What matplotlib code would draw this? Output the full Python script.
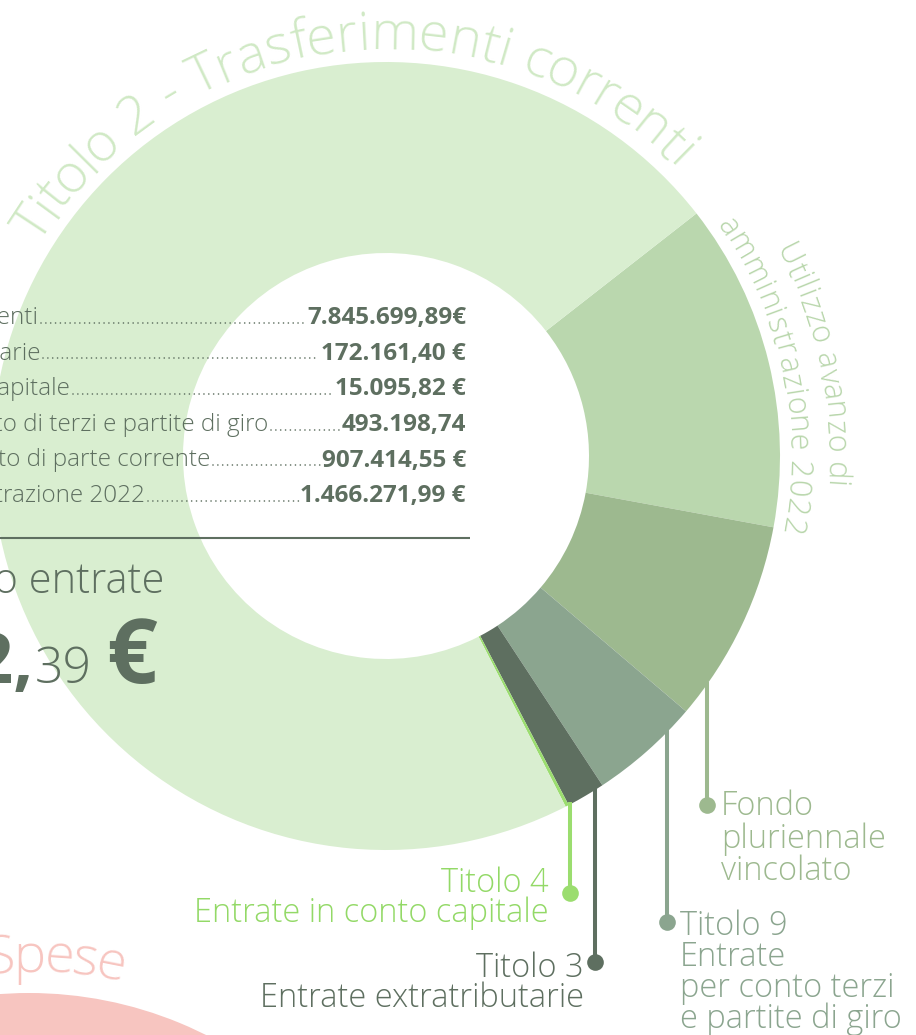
import numpy as np
import matplotlib
matplotlib.use("Agg")
import matplotlib.pyplot as plt
from matplotlib.patches import Wedge

W, H = 916, 1035
FONT = "Open Sans"
LIGHT = "light"

# Entrate (euro)
categorie = [
    "Titolo 2 - Trasferimenti correnti",
    "Titolo 3 - Entrate extratributarie",
    "Titolo 4 - Entrate in conto capitale",
    "Titolo 9 - Entrate per conto di terzi e partite di giro",
    "Fondo pluriennale vincolato di parte corrente",
    "Utilizzo avanzo di amministrazione 2022",
]
importi = [7845699.89, 172161.40, 15095.82, 493198.74, 907414.55, 1466271.99]
importi_testo = ["7.845.699,89€", "172.161,40 €", "15.095,82 €",
                 "493.198,74", "907.414,55 €", "1.466.271,99 €"]
colori = ["#d9eed0", "#5e6f60", "#9bdd6f", "#8ba58f", "#9db98f", "#bad7ae"]
colori_testo = ["#d0e9c5", "#5e6f60", "#93d967", "#8ba58f", "#9db98f", "#b8d6ab"]

# clockwise order around the ring, starting from the top-right boundary
ordine = [5, 4, 3, 1, 2, 0]

DARK = "#5e6f60"
PINK = "#f7c5c0"

fig = plt.figure(figsize=(W / 100, H / 100), dpi=100)
ax = fig.add_axes([0, 0, 1, 1])
renderer = fig.canvas.get_renderer()


def Y(y):
    return H - y


# ring geometry (pixels)
CX, CY = 386, 456
R_OUT, R_IN = 394, 203

ax.pie([importi[i] for i in ordine], colors=[colori[i] for i in ordine],
       startangle=38, counterclock=False, radius=R_OUT, center=(CX, Y(CY)),
       wedgeprops=dict(width=R_OUT - R_IN, linewidth=0, edgecolor="none"))

# second ring (spese), mostly outside the frame
ax.add_patch(Wedge((29, Y(1387)), R_OUT, 0, 360, width=R_OUT - R_IN,
                   facecolor=PINK, edgecolor="none"))

ax.set_xlim(0, W)
ax.set_ylim(0, H)
ax.set_aspect("equal")
ax.axis("off")


def text_width(s, size, weight):
    t = ax.text(0, 0, s, fontsize=size, family=FONT, weight=weight)
    w = t.get_window_extent(renderer).width
    t.remove()
    return w


def char_width(ch, size, weight):
    return text_width("x" + ch + "x", size, weight) - text_width("xx", size, weight)


def arc_text(s, cx, cy, r, mid_deg, size, color, weight=LIGHT, span_deg=None):
    ws = [char_width(ch, size, weight) for ch in s]
    total = sum(ws)
    gap = 0.0
    if span_deg is not None and len(s) > 1:
        gap = (np.deg2rad(span_deg) * r - total) / (len(s) - 1)
    length = total + gap * (len(s) - 1)
    th0 = np.deg2rad(mid_deg) + length / (2 * r)
    pos = 0.0
    for ch, w in zip(s, ws):
        th = th0 - (pos + w / 2) / r
        ax.text(cx + r * np.cos(th), cy + r * np.sin(th), ch,
                rotation=np.rad2deg(th) - 90, rotation_mode="anchor",
                ha="center", va="baseline", fontsize=size, family=FONT,
                weight=weight, color=color)
        pos += w + gap


# curved titles
arc_text("Titolo 2 - Trasferimenti correnti", CX, Y(CY), 407, 96.5, 39,
         colori_testo[0], span_deg=104)
arc_text("Utilizzo avanzo di", CX, Y(CY), 441, 12, 22, colori_testo[5], span_deg=32)
arc_text("amministrazione 2022", CX, Y(CY), 403, 12, 22, colori_testo[5], span_deg=46)
arc_text("Spese", 29, Y(1387), 415, 86.5, 39, PINK, span_deg=19)

# summary table with dot leaders
VAL_X = 466
row_base = [324, 359.6, 395, 431, 466.5, 502]
label_end = [38, 40, 70, 268, 210, 145]
LAB_SIZE = 17.5
VAL_SIZE = 17.5
for i, (lab, val) in enumerate(zip(categorie, importi_testo)):
    yb = Y(row_base[i])
    vw = text_width(val, VAL_SIZE, "bold")
    ax.text(VAL_X, yb, val, ha="right", va="baseline", fontsize=VAL_SIZE,
            family=FONT, weight="bold", color=DARK)
    ax.text(label_end[i], yb, lab, ha="right", va="baseline", fontsize=LAB_SIZE,
            family=FONT, weight=LIGHT, color=DARK)
    ax.plot([label_end[i] + 3, VAL_X - vw - 2], [yb + 1.2, yb + 1.2], color=DARK,
            lw=1.2, linestyle=(0, (0.01, 2.9)), dash_capstyle="round")

ax.plot([-5, 470], [Y(538), Y(538)], color=DARK, lw=1.5, solid_capstyle="butt")

# total
totale = sum(importi)
tot_str = f"{totale:,.2f}".replace(",", "X").replace(".", ",").replace("X", ".")
tot_int, tot_dec = tot_str.split(",")
ax.text(164, Y(593), "Totale complessivo entrate", ha="right", va="baseline",
        fontsize=30, family=FONT, weight=LIGHT, color=DARK)
ax.text(34, Y(683), tot_int + ",", ha="right", va="baseline", fontsize=50,
        family=FONT, weight="bold", color=DARK)
ax.text(35, Y(683), tot_dec, ha="left", va="baseline", fontsize=36,
        family=FONT, weight=LIGHT, color=DARK)
ax.text(106, Y(683), "€", ha="left", va="baseline", fontsize=64,
        family=FONT, weight="bold", color=DARK)

# callouts: (category index, leader x, dot y, text x, alignment, baselines, lines)
callouts = [
    (4, 707, 805, 721, "left", [815, 848, 880], ["Fondo", "pluriennale", "vincolato"]),
    (3, 667, 922, 680, "left", [935, 966, 997, 1028],
     ["Titolo 9", "Entrate", "per conto terzi", "e partite di giro"]),
    (2, 570, 893, 549, "right", [892, 922], ["Titolo 4", "Entrate in conto capitale"]),
    (1, 595, 962, 584, "right", [977, 1007], ["Titolo 3", "Entrate extratributarie"]),
]
for idx, lx, dy, tx, al, bases, lines in callouts:
    y_edge = CY + np.sqrt(R_OUT ** 2 - (lx - CX) ** 2) - 2
    ax.plot([lx, lx], [Y(y_edge), Y(dy)], color=colori[idx], lw=2.9,
            solid_capstyle="butt", zorder=3)
    ax.plot([lx], [Y(dy)], "o", ms=12, color=colori[idx], mec="none", zorder=4)
    for b, s in zip(bases, lines):
        ax.text(tx, Y(b), s, ha=al, va="baseline", fontsize=23.5, family=FONT,
                weight=LIGHT, color=colori_testo[idx])

fig.savefig("out.png", dpi=100)
